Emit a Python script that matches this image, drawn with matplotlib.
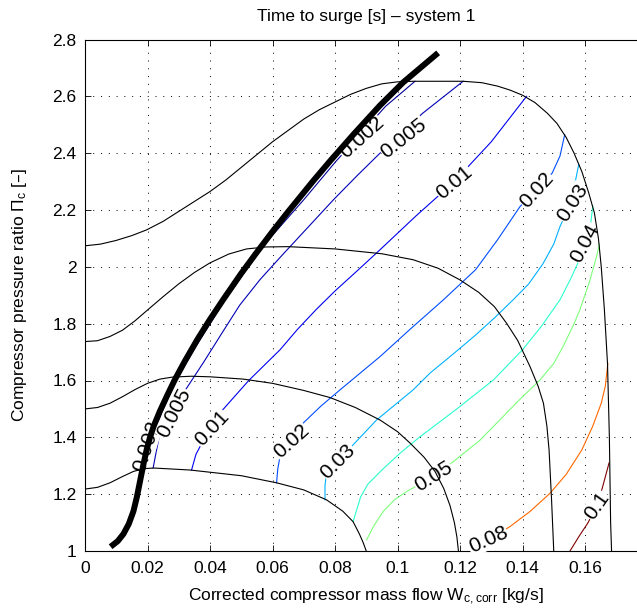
import matplotlib
matplotlib.use("Agg")
import matplotlib.pyplot as plt
from matplotlib import colors
from matplotlib.ticker import FuncFormatter

plt.rcParams['font.family'] = ['Liberation Sans', 'DejaVu Sans']
plt.rcParams['mathtext.default'] = 'regular'

# compressor speed lines (mass flow, pressure ratio)
speed1_w = [0, 0.004, 0.008, 0.012, 0.0155, 0.019, 0.022, 0.0336, 0.05, 0.0613, 0.07, 0.0773, 0.0825,
            0.0858, 0.0878, 0.089, 0.090]
speed1_pi = [1.218, 1.224, 1.24, 1.262, 1.28, 1.29, 1.292, 1.285, 1.265, 1.24, 1.215, 1.18, 1.14,
             1.103, 1.06, 1.03, 1.0]

speed2_w = [0, 0.004, 0.008, 0.012, 0.016, 0.02, 0.024, 0.028, 0.034, 0.04, 0.0506, 0.06, 0.07, 0.0784,
            0.0865, 0.0944, 0.1, 0.104, 0.1085, 0.112, 0.1148, 0.1168, 0.1182, 0.119, 0.1195]
speed2_pi = [1.50, 1.505, 1.52, 1.543, 1.568, 1.59, 1.605, 1.612, 1.615, 1.613, 1.605, 1.59, 1.565, 1.54,
             1.505, 1.461, 1.42, 1.38, 1.33, 1.28, 1.22, 1.16, 1.1, 1.05, 1.0]

speed3_w = [0, 0.004, 0.008, 0.012, 0.016, 0.02, 0.025, 0.03, 0.035, 0.04, 0.046, 0.0517, 0.058, 0.065,
            0.08, 0.095, 0.105, 0.113, 0.12, 0.126, 0.131, 0.135, 0.1385, 0.1424, 0.145, 0.1467, 0.1478,
            0.1485, 0.1493, 0.150]
speed3_pi = [1.737, 1.74, 1.755, 1.777, 1.81, 1.848, 1.895, 1.94, 1.98, 2.014, 2.045, 2.063, 2.07, 2.071,
             2.063, 2.046, 2.025, 1.995, 1.954, 1.91, 1.86, 1.80, 1.74, 1.649, 1.58, 1.52, 1.44,
             1.356, 1.18, 1.0]

speed4_w = [0, 0.005, 0.01, 0.015, 0.0197, 0.025, 0.03, 0.035, 0.04, 0.045, 0.05, 0.055, 0.06, 0.065,
            0.07, 0.075, 0.08, 0.085, 0.09, 0.095, 0.1, 0.105, 0.121, 0.127, 0.132, 0.136, 0.140, 0.144,
            0.148, 0.151, 0.154, 0.1565, 0.159, 0.1612, 0.163, 0.1643, 0.1652, 0.1662, 0.1672, 0.1678,
            0.1682, 0.1685]
speed4_pi = [2.074, 2.08, 2.093, 2.11, 2.13, 2.16, 2.195, 2.23, 2.265, 2.305, 2.35, 2.395, 2.44, 2.48,
             2.52, 2.553, 2.58, 2.607, 2.628, 2.644, 2.651, 2.653, 2.653, 2.648, 2.636, 2.622, 2.604, 2.578,
             2.54, 2.505, 2.455, 2.40, 2.335, 2.26, 2.19, 2.10, 2.0, 1.85, 1.66, 1.40,
             1.10, 1.0]

# surge line
surge_w = [0.0082, 0.0105, 0.0123, 0.014, 0.0155, 0.0166, 0.0176, 0.0187, 0.0197, 0.0208, 0.022, 0.024,
           0.0265, 0.0288, 0.032, 0.036, 0.040, 0.0443, 0.05, 0.0549, 0.06, 0.065, 0.073, 0.0784, 0.086,
           0.0944, 0.1018, 0.113]
surge_pi = [1.015, 1.035, 1.06, 1.095, 1.14, 1.19, 1.245, 1.305, 1.355, 1.40, 1.44, 1.493,
            1.552, 1.604, 1.669, 1.745, 1.815, 1.886, 1.977, 2.05, 2.124, 2.194, 2.302, 2.372, 2.467,
            2.568, 2.649, 2.753]

# time to surge iso-lines
c002_w = [0.0185, 0.0205, 0.0245, 0.0292, 0.0355, 0.0448, 0.0575, 0.070, 0.0802, 0.0962, 0.1056]
c002_pi = [1.29, 1.367, 1.486, 1.602, 1.72, 1.884, 2.08, 2.236, 2.37, 2.565, 2.653]
c005_w = [0.0218, 0.0228, 0.024, 0.0283, 0.0315, 0.038, 0.044, 0.0495, 0.056, 0.063, 0.071, 0.0795,
          0.087, 0.0944, 0.108, 0.121]
c005_pi = [1.292, 1.35, 1.415, 1.49, 1.556, 1.665, 1.77, 1.865, 1.955, 2.04, 2.135, 2.236,
           2.32, 2.40, 2.54, 2.653]
c01_w = [0.0341, 0.0355, 0.0379, 0.0432, 0.0524, 0.0624, 0.068, 0.074, 0.08, 0.087, 0.0944, 0.106,
         0.1178, 0.13, 0.1413]
c01_pi = [1.285, 1.34, 1.39, 1.486, 1.60, 1.708, 1.78, 1.85, 1.915, 1.985, 2.06, 2.18,
          2.296, 2.44, 2.60]
c02_w = [0.0613, 0.0617, 0.0624, 0.0661, 0.0698, 0.0755, 0.0816, 0.0944, 0.104, 0.1147, 0.125, 0.132,
         0.1392, 0.1445, 0.1495, 0.152, 0.1535]
c02_pi = [1.24, 1.29, 1.332, 1.39, 1.45, 1.51, 1.567, 1.684, 1.78, 1.884, 1.99, 2.095,
          2.212, 2.271, 2.33, 2.39, 2.465]
c03_w = [0.0768, 0.0768, 0.0773, 0.081, 0.0848, 0.0933, 0.105, 0.1104, 0.118, 0.125, 0.131, 0.137,
         0.142, 0.1465, 0.150, 0.152, 0.1555, 0.158]
c03_pi = [1.18, 1.23, 1.274, 1.315, 1.362, 1.461, 1.567, 1.626, 1.695, 1.76, 1.82, 1.884,
          1.94, 2.01, 2.08, 2.142, 2.225, 2.36]
c04_w = [0.0858, 0.0868, 0.0882, 0.0905, 0.095, 0.1008, 0.1072, 0.119, 0.1307, 0.140, 0.146, 0.152,
         0.1555, 0.158, 0.160, 0.1618, 0.1625]
c04_pi = [1.103, 1.14, 1.19, 1.235, 1.285, 1.344, 1.402, 1.50, 1.602, 1.708, 1.79, 1.884,
          1.96, 2.02, 2.084, 2.15, 2.215]
c05_w = [0.0901, 0.0925, 0.0955, 0.099, 0.103, 0.1075, 0.1115, 0.1179, 0.1264, 0.139, 0.1456, 0.150,
         0.153, 0.1565, 0.1584, 0.1615, 0.1638, 0.1646]
c05_pi = [1.039, 1.09, 1.14, 1.18, 1.21, 1.237, 1.262, 1.315, 1.39, 1.532, 1.602, 1.66,
          1.72, 1.80, 1.85, 1.95, 2.04, 2.08]
c08_w = [0.1243, 0.129, 0.136, 0.1425, 0.1488, 0.154, 0.159, 0.1625, 0.1652, 0.1665, 0.1673]
c08_pi = [1.0, 1.039, 1.086, 1.14, 1.203, 1.27, 1.356, 1.44, 1.52, 1.58, 1.66]
c1_w = [0.1552, 0.158, 0.161, 0.1637, 0.1655, 0.1677]
c1_pi = [1.0, 1.05, 1.1, 1.16, 1.22, 1.31]

levels = [0.002, 0.005, 0.01, 0.02, 0.03, 0.04, 0.05, 0.08, 0.1]

# inline labels: text, position, angle on screen
label_txt = ['0.002', '0.005', '0.01', '0.02', '0.03', '0.04',
             '0.002', '0.005', '0.01', '0.02', '0.03', '0.05', '0.08', '0.1']
label_w = [0.0885, 0.1019, 0.1180, 0.1445, 0.1560, 0.1600,
           0.0197, 0.0285, 0.0405, 0.0661, 0.0810, 0.1115, 0.1290, 0.1637]
label_pi = [2.455, 2.453, 2.298, 2.271, 2.225, 2.084,
            1.367, 1.485, 1.432, 1.385, 1.315, 1.262, 1.039, 1.160]
label_rot = [42, 38, 40, 48, 57, 62,
             72, 63, 47, 42, 45, 32, 24, 55]

fig = plt.figure(figsize=(6.37, 6.16), dpi=100)
ax = fig.add_axes([85 / 637, 65 / 616, 562.5 / 637, 511.5 / 616])

cmap = plt.get_cmap('jet')
norm = colors.Normalize(0, 0.1)
iso = [(c002_w, c002_pi), (c005_w, c005_pi), (c01_w, c01_pi), (c02_w, c02_pi), (c03_w, c03_pi),
       (c04_w, c04_pi), (c05_w, c05_pi), (c08_w, c08_pi), (c1_w, c1_pi)]
for lev, (w, p) in zip(levels, iso):
    ax.plot(w, p, color=cmap(norm(lev)), lw=0.8, zorder=2)

for t, w, p, r in zip(label_txt, label_w, label_pi, label_rot):
    ax.text(w, p, t, rotation=r, rotation_mode='anchor', ha='center', va='center', fontsize=15,
            bbox=dict(facecolor='white', edgecolor='none', pad=0.3), zorder=3)

for w, p in ((speed1_w, speed1_pi), (speed2_w, speed2_pi), (speed3_w, speed3_pi), (speed4_w, speed4_pi)):
    ax.plot(w, p, color='k', lw=0.8, zorder=4)

ax.plot(surge_w, surge_pi, color='k', lw=4.3, solid_capstyle='butt', solid_joinstyle='round', zorder=5)

ax.set_xlim(0, 0.18)
ax.set_ylim(1, 2.8)
ax.set_xticks([0, 0.02, 0.04, 0.06, 0.08, 0.1, 0.12, 0.14, 0.16])
ax.set_yticks([1, 1.2, 1.4, 1.6, 1.8, 2, 2.2, 2.4, 2.6, 2.8])
fmt = FuncFormatter(lambda v, pos: '%g' % round(v, 4))
ax.xaxis.set_major_formatter(fmt)
ax.yaxis.set_major_formatter(fmt)
ax.tick_params(direction='in', top=True, right=True, length=4.5, width=0.6, labelsize=12.5, pad=6)
ax.tick_params(axis='x', pad=7)
ax.grid(True, color='k', linestyle=(0, (1, 7)), linewidth=0.7)
for s in ax.spines.values():
    s.set_linewidth(0.8)

ax.set_title('Time to surge [s] \u2013 system 1', fontsize=12.5, pad=13)
ax.set_xlabel('Corrected compressor mass flow W$_{c,corr}$ [kg/s]', fontsize=12.5, labelpad=8)
ax.set_ylabel('Compressor pressure ratio \u03a0$_{c}$ [\u2013]', fontsize=12.5, labelpad=17)

fig.savefig('out.png', dpi=100)
